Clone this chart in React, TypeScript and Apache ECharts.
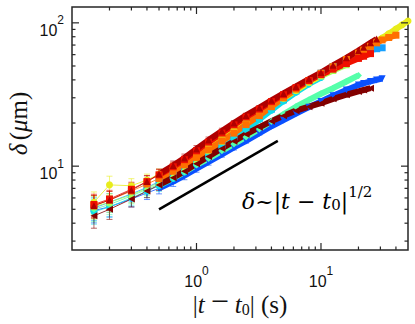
import React, { useEffect, useRef } from "react";
import * as echarts from "echarts";

// shared sampling times |t - t0| (s)
const times = [0.15, 0.2, 0.3, 0.4, 0.5, 0.65, 0.8, 1, 1.25, 1.6, 2, 2.5, 3.2, 4, 5, 6.3, 8, 10, 12.5, 16, 20, 22, 25, 28, 31, 35, 40, 45, 50];
// relative error bars for the first points
const relErr = [0.18, 0.15, 0.12, 0.1, 0.085, 0.075, 0.065, 0.055, 0.05, 0.045, 0.04, 0.035, 0.03];

// delta (um) for each run, aligned with `times`
const blueDelta = [4.9, 5.2, 5.9, 6.5, 7.0, 7.8, 8.6, 9.6, 10.7, 12.1, 13.5, 15.0, 17.0, 19.0, 21.0, 23.3, 25.8, 28.3, 31.0, 34.0, 36.8, 37.8, 39.0, 40.0, 40.8];
const lightBlueDelta = [5.1, 5.6, 6.4, 7.1, 7.8, 8.7, 9.6, 10.8, 12.2, 14.0, 16.0, 18.4, 21.6, 25.0, 29.0, 33.5, 39.0, 44.5, 49.5, 55.0, 60.0, 62.0, 64.5, 66.0, 67.0];
const cyanDelta = [4.8, 5.2, 6.0, 6.7, 7.3, 8.2, 9.1, 10.3, 11.7, 13.6, 15.6, 18.0, 21.2, 24.6, 28.5, 32.8, 37.5, 41.5];
const aquaDelta = [5.0, 5.4, 6.2, 6.9, 7.5, 8.3, 9.1, 10.2, 11.3, 12.8, 14.3, 16.0, 18.2, 20.5, 23.0, 26.0, 29.0, 32.0, 35.0, 39.0, 43.0];
const greenDelta = [5.2, 5.6, 6.3, 7.0, 7.7, 8.7, 9.7, 11.1, 12.8, 14.9, 17.2, 19.8, 23.0, 26.5, 30.0, 34.0, 38.5, 42.5, 46.5, 51.0];
const yellowDelta = [5.6, 7.4, 7.3, 8.0, 8.8, 9.8, 10.9, 12.2, 13.8, 15.8, 17.9, 20.3, 23.2, 26.3, 29.8, 33.8, 38.5, 43.0, 48.0, 54.5, 61.0, 64.5, 69.0, 74.0, 78.5, 84.0, 90.5, 97.0, 103.0];
const orangeDelta = [5.3, 5.8, 6.7, 7.5, 8.2, 9.2, 10.2, 11.5, 13.0, 15.0, 17.0, 19.5, 22.5, 26.0, 30.0, 34.5, 39.5, 44.5, 49.5, 55.5, 61.5, 64.5, 68.5, 72.5, 76.0, 79.0, 82.0];
const redDelta = [5.4, 5.9, 6.9, 7.8, 8.7, 9.9, 11.1, 12.8, 14.7, 17.0, 19.4, 22.0, 25.0, 28.2, 31.5, 35.3, 39.5, 43.5, 47.5, 52.0, 56.5, 58.5, 61.0];
const darkRedDelta = [5.3, 5.8, 6.8, 7.8, 8.8, 10.1, 11.4, 13.2, 15.2, 17.6, 20.0, 22.6, 25.6, 28.8, 32.2, 36.0, 40.5, 45.0, 50.5, 57.0, 64.0, 67.5, 72.5, 77.0];
const maroonDelta = [4.5, 5.0, 5.9, 6.7, 7.4, 8.3, 9.2, 10.4, 11.7, 13.3, 14.9, 16.7, 18.7, 20.6, 22.5, 24.4, 26.0, 27.5, 29.5, 31.5, 33.2, 34.0, 35.0];

// reference slope-1/2 line
const refLineT = [0.5, 4.5];
const refLineDelta = [5.0, 15.0];

// axis ticks
const xMajorTicks = [1, 10];
const xMinorTicks = [0.2, 0.3, 0.4, 0.5, 0.6, 0.7, 0.8, 0.9, 2, 3, 4, 5, 6, 7, 8, 9, 20, 30, 40];
const yMajorTicks = [10, 100];
const yMinorTicks = [3, 4, 5, 6, 7, 8, 9, 20, 30, 40, 50, 60, 70, 80, 90];

const X_MIN = 0.1;
const X_MAX = 50;
const Y_MIN = 2.6;
const Y_MAX = 129;
const THICK_FROM = 4;

const runs = [
  { name: "r1", values: blueDelta, color: "#0a50ff", symbol: "triangle", rotate: 180 },
  { name: "r2", values: lightBlueDelta, color: "#16a0ff", symbol: "rect", rotate: 0 },
  { name: "r3", values: cyanDelta, color: "#10dcea", symbol: "circle", rotate: 0 },
  { name: "r4", values: aquaDelta, color: "#55ffaa", symbol: "diamond", rotate: 0 },
  { name: "r5", values: greenDelta, color: "#a8ff55", symbol: "triangle", rotate: 0 },
  { name: "r6", values: yellowDelta, color: "#e8ec1c", symbol: "circle", rotate: 0 },
  { name: "r7", values: orangeDelta, color: "#ff7000", symbol: "rect", rotate: 0 },
  { name: "r8", values: redDelta, color: "#f01000", symbol: "rect", rotate: 0 },
  { name: "r9", values: darkRedDelta, color: "#b00000", symbol: "triangle", rotate: 0 },
  { name: "r10", values: maroonDelta, color: "#820000", symbol: "triangle", rotate: 90 },
];

const FRAME = "#262626";

export default function App() {
  const ref = useRef<HTMLDivElement>(null);

  useEffect(() => {
    if (!ref.current) return;
    const chart = echarts.init(ref.current, undefined, { renderer: "svg" });

    const series: any[] = [];

    runs.forEach((r) => {
      const pts = r.values.map((d, i) => [times[i], d]);
      const errData = r.values
        .slice(0, relErr.length)
        .map((d, i) => [times[i], d * (1 - relErr[i]), d * (1 + relErr[i])]);
      series.push({
        type: "custom",
        name: r.name + "-err",
        silent: true,
        encode: { x: 0, y: [1, 2] },
        data: errData,
        renderItem: (params: any, api: any) => {
          const x = api.value(0);
          const p1 = api.coord([x, api.value(1)]);
          const p2 = api.coord([x, api.value(2)]);
          const w = 3;
          const st = { stroke: r.color, lineWidth: 1, opacity: 0.6 };
          return {
            type: "group",
            children: [
              { type: "line", shape: { x1: p1[0], y1: p1[1], x2: p2[0], y2: p2[1] }, style: st },
              { type: "line", shape: { x1: p1[0] - w, y1: p1[1], x2: p1[0] + w, y2: p1[1] }, style: st },
              { type: "line", shape: { x1: p2[0] - w, y1: p2[1], x2: p2[0] + w, y2: p2[1] }, style: st },
            ],
          };
        },
      });
      series.push({
        type: "line",
        name: r.name + "-band",
        silent: true,
        data: pts.slice(THICK_FROM),
        symbol: "none",
        lineStyle: { color: r.color, width: 6, cap: "butt", join: "round" },
      });
      series.push({
        type: "line",
        name: r.name,
        silent: true,
        data: pts,
        symbol: r.symbol,
        symbolRotate: r.rotate,
        symbolSize: 7,
        itemStyle: { color: r.color },
        lineStyle: { color: r.color, width: 0.8 },
      });
    });

    series.push({
      type: "line",
      name: "ref",
      silent: true,
      data: refLineT.map((t, i) => [t, refLineDelta[i]]),
      symbol: "none",
      z: 5,
      lineStyle: { color: "#000", width: 2.5 },
    });

    // x ticks (bottom + top)
    const xTickData = [
      ...xMajorTicks.map((v) => [v, Y_MIN, 1]),
      ...xMinorTicks.map((v) => [v, Y_MIN, 0]),
    ];
    series.push({
      type: "custom",
      name: "xticks",
      silent: true,
      z: 6,
      encode: { x: 0, y: 1 },
      data: xTickData,
      renderItem: (params: any, api: any) => {
        const cs = params.coordSys;
        const px = api.coord([api.value(0), Y_MIN])[0];
        const len = api.value(2) ? 7 : 3.5;
        const st = { stroke: FRAME, lineWidth: 1.2 };
        return {
          type: "group",
          children: [
            { type: "line", shape: { x1: px, y1: cs.y + cs.height, x2: px, y2: cs.y + cs.height - len }, style: st },
            { type: "line", shape: { x1: px, y1: cs.y, x2: px, y2: cs.y + len }, style: st },
          ],
        };
      },
    });
    const yTickData = [
      ...yMajorTicks.map((v) => [X_MIN, v, 1]),
      ...yMinorTicks.map((v) => [X_MIN, v, 0]),
    ];
    series.push({
      type: "custom",
      name: "yticks",
      silent: true,
      z: 6,
      encode: { x: 0, y: 1 },
      data: yTickData,
      renderItem: (params: any, api: any) => {
        const cs = params.coordSys;
        const py = api.coord([X_MIN, api.value(1)])[1];
        const len = api.value(2) ? 7 : 3.5;
        const st = { stroke: FRAME, lineWidth: 1.2 };
        return {
          type: "group",
          children: [
            { type: "line", shape: { x1: cs.x, y1: py, x2: cs.x + len, y2: py }, style: st },
            { type: "line", shape: { x1: cs.x + cs.width, y1: py, x2: cs.x + cs.width - len, y2: py }, style: st },
          ],
        };
      },
    });

    const tickRich = {
      b: { fontSize: 16, fontFamily: "Liberation Sans", color: "#111", lineHeight: 24, verticalAlign: "bottom" },
      s: { fontSize: 12, fontFamily: "Liberation Sans", color: "#111", lineHeight: 11, verticalAlign: "top" },
    };
    const powLabel = (allowed: number[]) => (v: number) => {
      const e = Math.round(Math.log10(v));
      if (Math.abs(Math.log10(v) - e) > 1e-6) return "";
      if (allowed.indexOf(e) < 0) return "";
      return `{b|10}{s|${e}}`;
    };

    const serif = "Liberation Serif";
    const nameRich = {
      r: { fontSize: 25, fontFamily: serif, color: "#111", lineHeight: 26, verticalAlign: "bottom" },
      i: { fontSize: 25, fontFamily: serif, fontStyle: "italic", color: "#111", lineHeight: 26, verticalAlign: "bottom" },
      m: { fontSize: 32, fontFamily: serif, color: "#111", lineHeight: 26, verticalAlign: "bottom", padding: [0, 6, 0, 6] },
      sub: { fontSize: 16, fontFamily: serif, color: "#111", lineHeight: 14, verticalAlign: "bottom" },
    };
    const annFont = "DejaVu Serif";
    const annRich = {
      r: { fontSize: 22, fontFamily: annFont, color: "#111", lineHeight: 28, verticalAlign: "bottom" },
      i: { fontSize: 22, fontFamily: annFont, fontStyle: "italic", color: "#111", lineHeight: 28, verticalAlign: "bottom" },
      sub: { fontSize: 15, fontFamily: annFont, color: "#111", lineHeight: 14, verticalAlign: "bottom" },
      sup: { fontSize: 15, fontFamily: annFont, color: "#111", lineHeight: 14, verticalAlign: "top" },
    };

    const option: any = {
      animation: false,
      grid: {
        left: 72,
        right: 7,
        top: 7,
        bottom: 74,
        show: true,
        borderColor: FRAME,
        borderWidth: 1.5,
        backgroundColor: "transparent",
        outerBoundsMode: "none",
      },
      xAxis: {
        type: "log",
        logBase: 10,
        min: X_MIN,
        max: X_MAX,
        axisLine: { show: false },
        axisTick: { show: false },
        splitLine: { show: false },
        minorTick: { show: false },
        axisLabel: { formatter: powLabel([0, 1]), rich: tickRich, margin: 15 },
        name: "{r||}{i|t}{m|−}{i|t}{sub|0}{r|| (s)}",
        nameLocation: "middle",
        nameGap: 41,
        nameMoveOverlap: false,
        nameTextStyle: { rich: nameRich },
      },
      yAxis: {
        type: "log",
        logBase: 10,
        min: Y_MIN,
        max: Y_MAX,
        axisLine: { show: false },
        axisTick: { show: false },
        splitLine: { show: false },
        minorTick: { show: false },
        axisLabel: { formatter: powLabel([1, 2]), rich: tickRich, margin: 8, padding: [7, 0, 0, 0] },
        name: "{i|δ} {r|(}{i|μ}{r|m)}",
        nameLocation: "middle",
        nameGap: 41,
        nameMoveOverlap: false,
        nameTextStyle: { rich: nameRich, padding: [0, 0, 0, 10] },
      },
      graphic: [
        {
          type: "text",
          left: 242,
          top: 184,
          silent: true,
          style: {
            text: "{i|δ}{r|~|}{i|t}{r| − }{i|t}{sub|0}{r||}{sup|1/2}",
            rich: annRich,
          },
        },
      ],
      series,
    };

    chart.setOption(option);
    return () => chart.dispose();
  }, []);

  return (
    <div
      ref={ref}
      style={{ position: "fixed", left: 0, top: 0, width: 415, height: 324, background: "#fff" }}
    />
  );
}
